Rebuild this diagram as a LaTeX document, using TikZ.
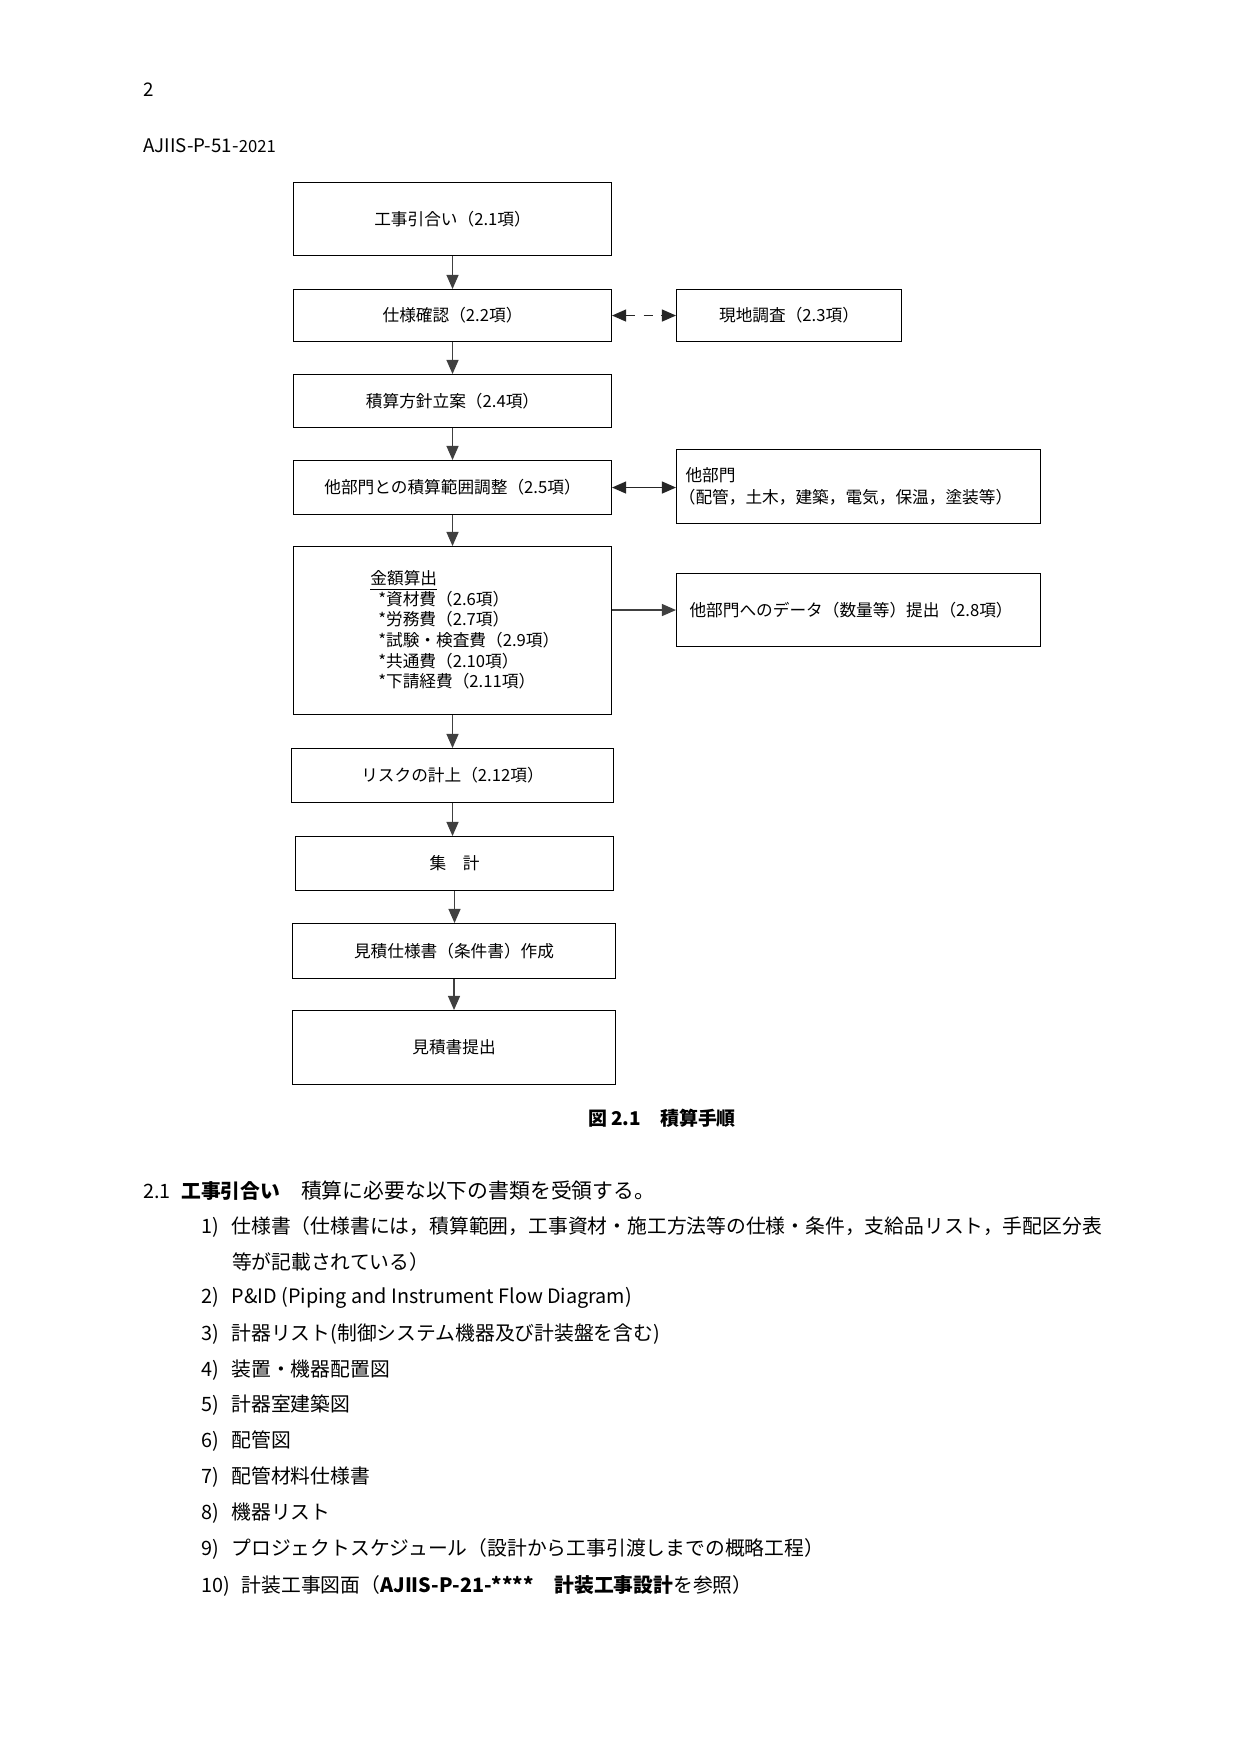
\documentclass[tikz,border=0pt]{standalone}
\usepackage{fontspec}
\setmainfont{Noto Sans CJK JP}
\usetikzlibrary{arrows.meta}
\begin{document}
\begin{tikzpicture}[x=0.48pt,y=-0.48pt,
  box/.style={draw=black, line width=0.5pt, inner sep=0pt, anchor=north west,
    font=\fontsize{8}{10}\selectfont},
  tbox/.style={box, align=left, inner xsep=#1*0.48pt},
  arr/.style={draw=black!75, line width=0.6pt, -{Triangle[length=6.8pt,width=5.8pt]}},
  darr/.style={draw=black!85, line width=0.6pt, {Triangle[length=6.8pt,width=5.8pt]}-{Triangle[length=6.8pt,width=5.8pt]}},
  body/.style={anchor=west, inner sep=0pt, font=\fontsize{9.5}{11}\selectfont},
  hdr/.style={anchor=west, inner sep=0pt, font=\fontsize{9}{10}\selectfont}
]
\useasboundingbox[fill=white] (0,0) rectangle (1241,1755);

% header
\node[hdr] (pg) at (143,89.5) {2};
\node[hdr] (std) at (143,145.5) {AJIIS-P-51-{\fontsize{8}{9}\selectfont 2021}};

% flow boxes
\node[box, minimum width={318*0.48pt}, minimum height={73*0.48pt}] (b1) at (293,182) {工事引合い（2.1項）};
\node[box, minimum width={318*0.48pt}, minimum height={52*0.48pt}] (b2) at (293,289) {仕様確認（2.2項）};
\node[box, minimum width={225*0.48pt}, minimum height={52*0.48pt}] (b3) at (676,289) {現地調査（2.3項）};
\node[box, minimum width={318*0.48pt}, minimum height={53*0.48pt}] (b4) at (293,374) {積算方針立案（2.4項）};
\node[box, minimum width={318*0.48pt}, minimum height={54*0.48pt}] (b5) at (293,460) {他部門との積算範囲調整（2.5項）};
\node[tbox=9, text width={346*0.48pt}, minimum height={74*0.48pt}, font=\fontsize{8}{10.6}\selectfont] (b6) at (676,449) {他部門\\\hspace*{-0.4em}（配管，土木，建築，電気，保温，塗装等）};
\node[box, minimum width={318*0.48pt}, minimum height={168*0.48pt}] (b7) at (293,546) {};
\node[anchor=west, inner sep=0pt, align=left, font=\fontsize{8}{9.9}\selectfont] (b7t) at (370,630)
  {\underline{金額算出}\\
   \hspace*{3.8pt}*資材費（2.6項）\\
   \hspace*{3.8pt}*労務費（2.7項）\\
   \hspace*{3.8pt}*試験・検査費（2.9項）\\
   \hspace*{3.8pt}*共通費（2.10項）\\
   \hspace*{3.8pt}*下請経費（2.11項）};
\node[tbox=13, text width={338*0.48pt}, minimum height={73*0.48pt}] (b8) at (676,573) {他部門へのデータ（数量等）提出（2.8項）};
\node[box, minimum width={322*0.48pt}, minimum height={54*0.48pt}] (b9) at (291,748) {リスクの計上（2.12項）};
\node[box, minimum width={318*0.48pt}, minimum height={54*0.48pt}] (b10) at (295,836) {集　計};
\node[box, minimum width={323*0.48pt}, minimum height={55*0.48pt}] (b11) at (292,923) {見積仕様書（条件書）作成};
\node[box, minimum width={323*0.48pt}, minimum height={74*0.48pt}] (b12) at (292,1010) {見積書提出};

% connectors
\draw[arr] (b1.south) -- (b1.south |- b2.north);
\draw[arr] (b2.south) -- (b2.south |- b4.north);
\draw[arr] (b4.south) -- (b4.south |- b5.north);
\draw[arr] (b5.south) -- (b5.south |- b7.north);
\draw[arr] (b7.south) -- (b7.south |- b9.north);
\draw[arr] (b9.south) -- (b9.south |- b10.north);
\draw[arr] (b10.south) -- (b10.south |- b11.north);
\draw[arr] (b11.south) -- (b11.south |- b12.north);
\draw[darr, dash pattern=on 4.5pt off 4pt] (b2.east) -- (b2.east -| b3.west);
\draw[darr] (b5.east) -- (b5.east -| b6.west);
\draw[arr] (b8.west -| b7.east) -- (b8.west);

% caption
\node[inner sep=0pt, font=\fontsize{9.1}{11}\selectfont\bfseries] (cap) at (662,1118) {図 2.1　積算手順};

% body text
\node[body] (s21) at (143,1190.5) {\makebox[18.2pt][l]{2.1}\textbf{工事引合い}\hspace{10pt}{\fontsize{10}{11}\selectfont 積算に必要な以下の書類を受領する。}};
\node[body] (i1) at (201,1226.5) {\makebox[14.5pt][l]{1)}仕様書（仕様書には，積算範囲，工事資材・施工方法等の仕様・条件，支給品リスト，手配区分表};
\node[body] (i1b) at (231.6,1262) {等が記載されている）};
\node[body] (i2) at (201,1298) {\makebox[14.5pt][l]{2)}P\&ID (Piping and Instrument Flow Diagram)};
\node[body] (i3) at (201,1334) {\makebox[14.5pt][l]{3)}計器リスト(制御システム機器及び計装盤を含む)};
\node[body] (i4) at (201,1370) {\makebox[14.5pt][l]{4)}装置・機器配置図};
\node[body] (i5) at (201,1405.5) {\makebox[14.5pt][l]{5)}計器室建築図};
\node[body] (i6) at (201,1441) {\makebox[14.5pt][l]{6)}配管図};
\node[body] (i7) at (201,1477) {\makebox[14.5pt][l]{7)}配管材料仕様書};
\node[body] (i8) at (201,1513) {\makebox[14.5pt][l]{8)}機器リスト};
\node[body] (i9) at (201,1549) {\makebox[14.5pt][l]{9)}プロジェクトスケジュール（設計から工事引渡しまでの概略工程）};
\node[body] (i10) at (201,1585.5) {\makebox[19.4pt][l]{10)}計装工事図面（\textbf{AJIIS-P-21-****}\hspace{10pt}\textbf{計装工事設計}を参照）};
\end{tikzpicture}
\end{document}
